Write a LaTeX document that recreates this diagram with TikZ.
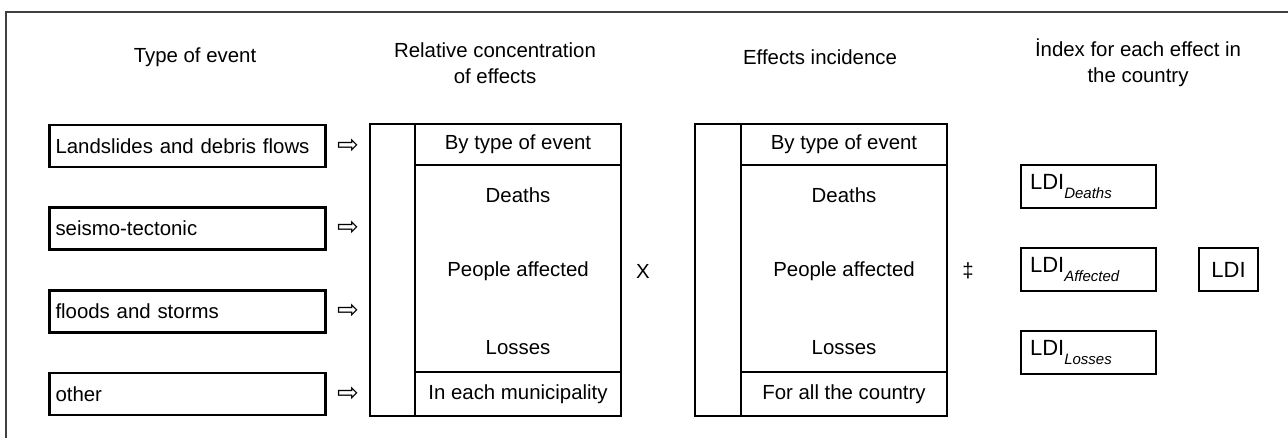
\documentclass[tikz,border=0pt]{standalone}
\usepackage{fontspec}
\setmainfont{Liberation Sans}
\newfontfamily\arrowfont{DejaVu Sans}
\usetikzlibrary{positioning}

\newcommand{\ldisub}[1]{\raisebox{-0.7ex}{\fontsize{7.5}{9}\selectfont\itshape #1}}

\tikzset{
    txt/.style={font=\fontsize{10.2}{13}\selectfont, inner sep=0pt},
    head/.style={txt, align=center},
    evbox/.style={txt, draw, line width=1.3pt, minimum height=21pt, text width=132pt, align=left, inner xsep=3pt},
    cell/.style={txt, draw, line width=1.2pt, minimum width=103pt},
    strip/.style={draw, line width=1.2pt, minimum width=22.75pt, minimum height=146pt, inner sep=0pt},
    ldibox/.style={draw, line width=1.3pt, minimum height=21.5pt, text width=58.5pt, align=left, inner xsep=4.5pt, inner ysep=0pt, font=\fontsize{11}{13}\selectfont},
    ldisum/.style={draw, line width=1.3pt, minimum height=21.5pt, minimum width=29.5pt, inner xsep=2pt, font=\fontsize{11}{13}\selectfont},
    arr/.style={font=\arrowfont\fontsize{13}{14}\selectfont, inner sep=0pt}
}

\begin{document}
\begin{tikzpicture}[x=0.5pt, y=-0.5pt]
    \useasboundingbox (0,0) rectangle (1288,438);
    \draw [line width=0.6pt, black!75] (6,438) |- (1288,12);

    \node [head] (h1) at (195,57) {Type of event};
    \node [head] (h2) at (495,63) {Relative concentration\\of effects};
    \node [head] (h3) at (820,57) {Effects incidence};
    \node [head] (h4) at (1138,63) {İndex for each effect in\\the country};

    \node [evbox] (ev1) at (187.5,146) {Landslides and debris flows};
    \node [evbox] (ev2) at (187.5,228.5) {seismo-tectonic};
    \node [evbox] (ev3) at (187.5,311.5) {floods and storms};
    \node [evbox] (ev4) at (187.5,394) {other};
    \node [arr, right=5pt of ev1] (a1) {⇨};
    \node [arr, right=5pt of ev2] (a2) {⇨};
    \node [arr, right=5pt of ev3] (a3) {⇨};
    \node [arr, right=5pt of ev4] (a4) {⇨};

    \node [strip] (s1) at (392.5,270) {};
    \node [cell, minimum height=20.5pt] (c1t) at (518,144.5) {By type of event};
    \node [cell, minimum height=103.5pt] (c1m) at (518,268.5) {};
    \node [cell, minimum height=22pt] (c1b) at (518,394) {In each municipality};
    \node [txt] (c1d) at (518,195) {Deaths};
    \node [txt] (c1p) at (518,271) {People affected};
    \node [txt] (c1l) at (518,348) {Losses};

    \node [txt] (times) at (643,271) {X};

    \node [strip] (s2) at (718,270) {};
    \node [cell, minimum height=20.5pt] (c2t) at (844,144.5) {By type of event};
    \node [cell, minimum height=103.5pt] (c2m) at (844,268.5) {};
    \node [cell, minimum height=22pt] (c2b) at (844,394) {For all the country};
    \node [txt] (c2d) at (844,195) {Deaths};
    \node [txt] (c2p) at (844,271) {People affected};
    \node [txt] (c2l) at (844,348) {Losses};

    \node [txt] (equiv) at (968,271) {‡};

    \node [ldibox] (ldid) at (1088.5,186.5) {LDI\ldisub{Deaths}};
    \node [ldibox] (ldia) at (1088.5,269.5) {LDI\ldisub{Affected}};
    \node [ldibox] (ldil) at (1088.5,352.5) {LDI\ldisub{Losses}};
    \node [ldisum] (ldi) at (1228.5,269.5) {LDI};
\end{tikzpicture}
\end{document}
